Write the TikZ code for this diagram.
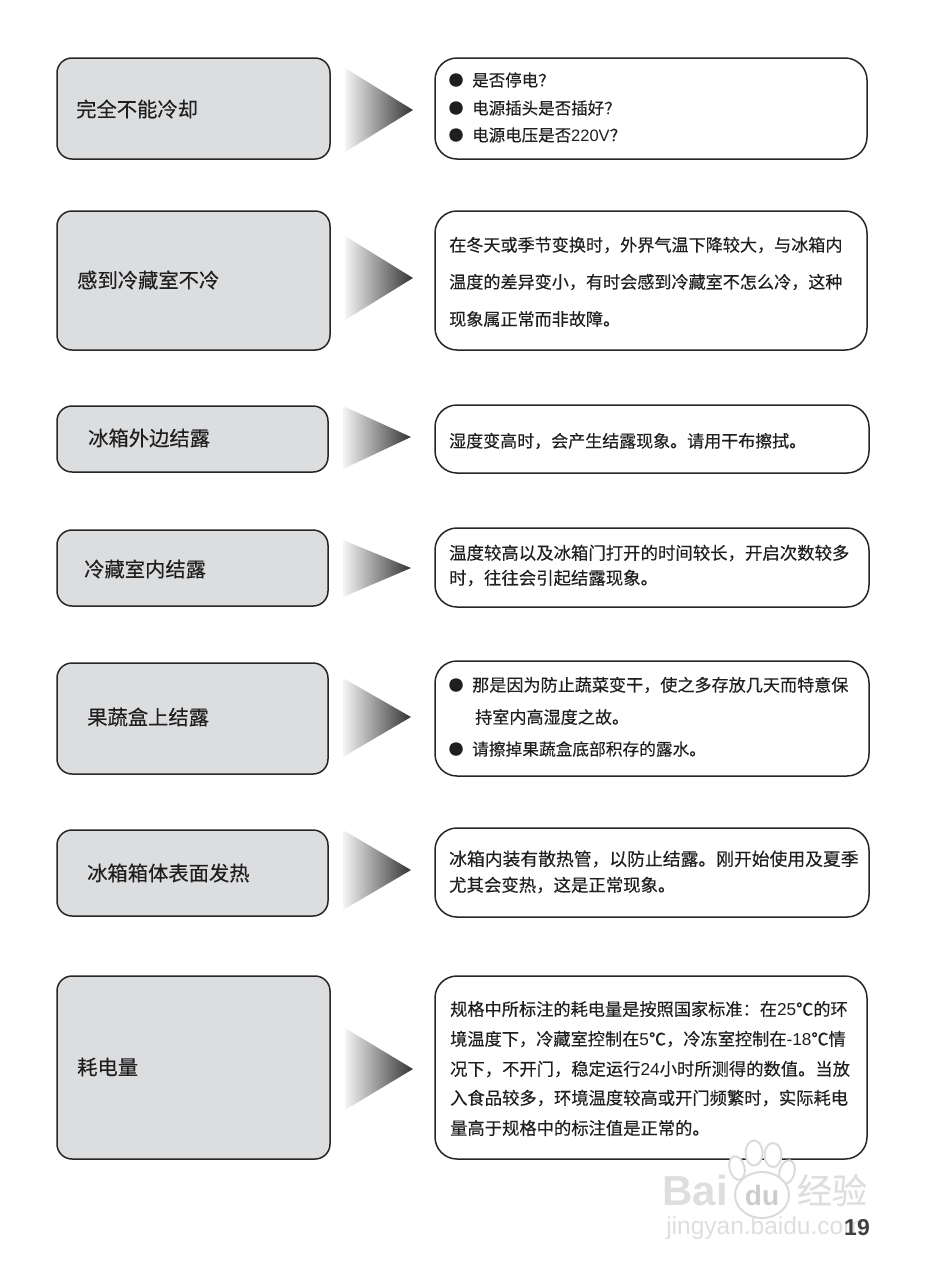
\documentclass[tikz,border=0pt]{standalone}
\usepackage{fontspec}
\setmainfont[FakeBold=0.25]{Noto Sans CJK SC}
\newfontfamily\lat{Liberation Sans}
\tikzset{x=1pt,y=-1pt,
 lbox/.style={draw=black!85,line width=1.5pt,rounded corners=15pt,fill=boxgray,inner sep=0pt},
 rbox/.style={draw=black!85,line width=1.5pt,rounded corners=22pt,fill=white,inner sep=0pt},
 lab/.style={anchor=west,inner sep=0pt,text=black!88,font=\fontsize{20.3}{20.3}\selectfont},
 ln/.style={anchor=west,inner sep=0pt,text=black!88,font=\fontsize{#1}{#1}\selectfont},
 dot/.style={circle,fill=black!88,minimum size=13.5pt,inner sep=0pt},
 wm/.style={inner sep=0pt,text=black!13,font=\lat\bfseries\fontsize{#1}{#1}\selectfont},
 toe/.style={ellipse,draw=black!14,line width=2pt,fill=white,inner sep=0pt}}
\definecolor{boxgray}{HTML}{DCDDDF}
\newcommand{\tri}[4]{\shade[left color=black!4,right color=black!80,shading=axis] (#1,#2) -- (#1+68,#4) -- (#1,#3) -- cycle;}
\newcommand{\nm}[1]{{\lat #1}}
\usetikzlibrary{shapes.geometric}
\begin{document}
\begin{tikzpicture}
\useasboundingbox (0,0) rectangle (927,1280);
% left boxes
\node[lbox,minimum width=273pt,minimum height=101pt] (l1) at (193.5,108.5) {};
\node[lbox,minimum width=273pt,minimum height=139pt] (l2) at (193.5,280.5) {};
\node[lbox,minimum width=271pt,minimum height=66pt] (l3) at (192.5,439) {};
\node[lbox,minimum width=271pt,minimum height=76pt] (l4) at (192.5,568) {};
\node[lbox,minimum width=271pt,minimum height=111pt] (l5) at (192.5,718.5) {};
\node[lbox,minimum width=271pt,minimum height=86pt] (l6) at (192.5,873) {};
\node[lbox,minimum width=273pt,minimum height=183pt] (l7) at (193.5,1067.5) {};
% right boxes
\node[rbox,minimum width=432pt,minimum height=101pt] (r1) at (651,108.5) {};
\node[rbox,minimum width=432pt,minimum height=139pt] (r2) at (651,280.5) {};
\node[rbox,minimum width=434pt,minimum height=68pt] (r3) at (652,439) {};
\node[rbox,minimum width=434pt,minimum height=79pt] (r4) at (652,567.5) {};
\node[rbox,minimum width=434pt,minimum height=115pt] (r5) at (652,718.5) {};
\node[rbox,minimum width=434pt,minimum height=89pt] (r6) at (652,872.5) {};
\node[rbox,minimum width=432pt,minimum height=183pt] (r7) at (651,1067.5) {};
% arrows
\tri{345}{68}{152}{110}
\tri{345}{236}{320}{278}
\tri{343}{406}{469}{437}
\tri{343}{540}{597}{568}
\tri{343}{678}{757}{717}
\tri{343}{830}{910}{870}
\tri{345}{1028}{1110}{1069}
% left labels
\node[lab] (a1) at (76,109) {完全不能冷却};
\node[lab] (a2) at (77,280) {感到冷藏室不冷};
\node[lab] (a3) at (88,438) {冰箱外边结露};
\node[lab] (a4) at (84,569) {冷藏室内结露};
\node[lab] (a5) at (87,717) {果蔬盒上结露};
\node[lab] (a6) at (87,873) {冰箱箱体表面发热};
\node[lab] (a7) at (77,1067) {耗电量};
% box 1
\node[dot] (d1) at (456,80) {};
\node[dot] (d2) at (456,108) {};
\node[dot] (d3) at (456,135) {};
\node[ln=16.5] (t11) at (472,80) {是否停电？};
\node[ln=16.5] (t12) at (472,108) {电源插头是否插好？};
\node[ln=16.5] (t13) at (472,135) {电源电压是否\nm{220V}？};
% box 2
\node[ln=17.1] (t21) at (449,245) {在冬天或季节变换时，外界气温下降较大，与冰箱内};
\node[ln=17.1] (t22) at (449,282) {温度的差异变小，有时会感到冷藏室不怎么冷，这种};
\node[ln=17.1] (t23) at (449,319) {现象属正常而非故障。};
% box 3
\node[ln=17] (t31) at (449,441) {湿度变高时，会产生结露现象。请用干布擦拭。};
% box 4
\node[ln=17.4] (t41) at (449,553) {温度较高以及冰箱门打开的时间较长，开启次数较多};
\node[ln=17.4] (t42) at (449,578) {时，往往会引起结露现象。};
% box 5
\node[dot] (d4) at (456,685) {};
\node[dot] (d5) at (456,749) {};
\node[ln=17.1] (t51) at (472,685) {那是因为防止蔬菜变干，使之多存放几天而特意保};
\node[ln=17.1] (t52) at (475,717) {持室内高湿度之故。};
\node[ln=16.7] (t53) at (472,749) {请擦掉果蔬盒底部积存的露水。};
% box 6
\node[ln=17.8] (t61) at (449,859) {冰箱内装有散热管，以防止结露。刚开始使用及夏季};
\node[ln=17.4] (t62) at (449,885) {尤其会变热，这是正常现象。};
% box 7
\node[ln=17.2] (t71) at (450,1009) {规格中所标注的耗电量是按照国家标准：在\nm{25}℃的环};
\node[ln=17.2] (t72) at (450,1039) {境温度下，冷藏室控制在\nm{5}℃，冷冻室控制在\nm{-18}℃情};
\node[ln=17.3] (t73) at (450,1069) {况下，不开门，稳定运行\nm{24}小时所测得的数值。当放};
\node[ln=17.3] (t74) at (450,1098) {入食品较多，环境温度较高或开门频繁时，实际耗电};
\node[ln=17.3] (t75) at (450,1128) {量高于规格中的标注值是正常的。};
% watermark
\node[toe,minimum width=17pt,minimum height=25pt] (p1) at (754,1153) {};
\node[toe,minimum width=17pt,minimum height=24pt] (p2) at (773,1155) {};
\node[toe,minimum width=15pt,minimum height=24pt,rotate=15] (p3) at (737,1168) {};
\node[toe,minimum width=15pt,minimum height=24pt,rotate=-15] (p4) at (787,1172) {};
\node[toe,minimum width=54pt,minimum height=46pt] (p5) at (762,1195) {};
\node[wm=42] (w1) at (695,1190) {Bai};
\node[wm=28,text=black!20] (w2) at (762,1195) {du};
\node[wm=34,font=\fontsize{35}{35}\selectfont] (w3) at (832,1190) {经验};
\node[wm=24.5,font=\lat\fontsize{24.5}{24.5}\selectfont] (w4) at (765,1228) {jingyan.baidu.com};
% page number
\node[inner sep=0pt,text=black!75,font=\lat\bfseries\fontsize{23}{23}\selectfont] (pg) at (857,1228) {19};
\end{tikzpicture}
\end{document}
